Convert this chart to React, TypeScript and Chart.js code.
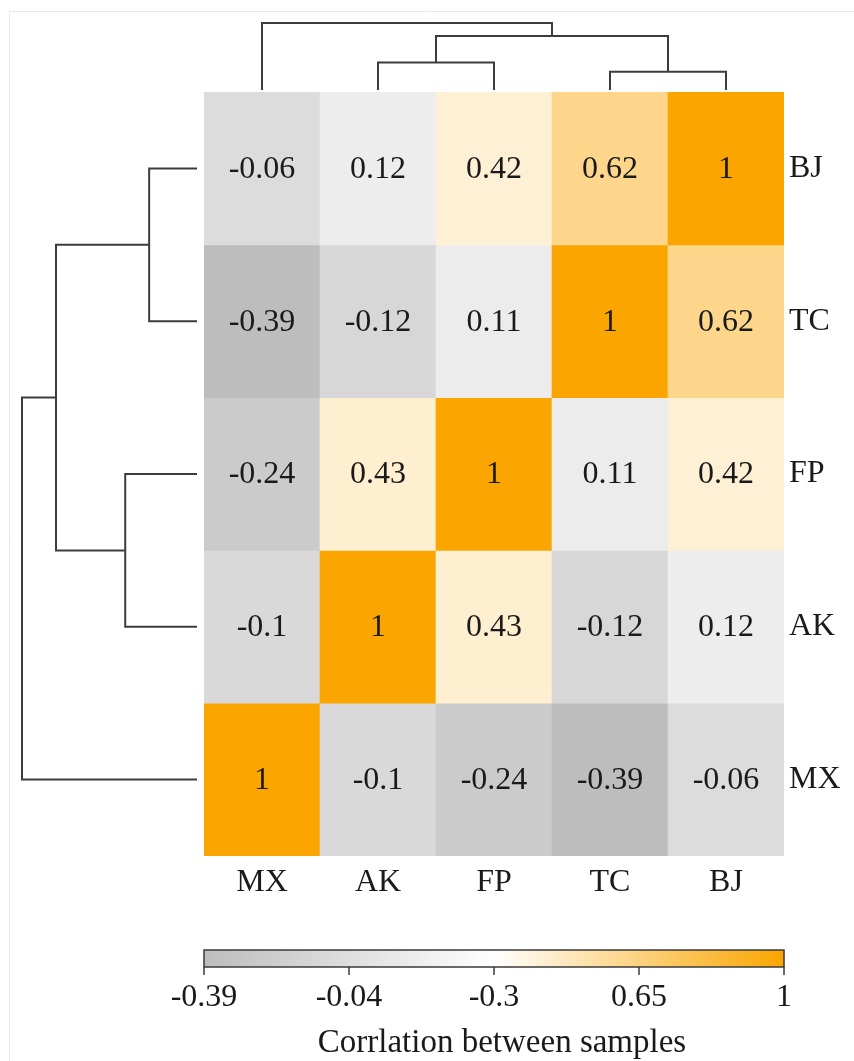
import React, { useEffect, useRef } from 'react';
import { Chart, registerables } from 'chart.js';

Chart.register(...registerables);

// ---------- data ----------
const COLUMNS = ['MX', 'AK', 'FP', 'TC', 'BJ'];
const ROWS = ['BJ', 'TC', 'FP', 'AK', 'MX'];
const ROW_BJ = [-0.06, 0.12, 0.42, 0.62, 1];
const ROW_TC = [-0.39, -0.12, 0.11, 1, 0.62];
const ROW_FP = [-0.24, 0.43, 1, 0.11, 0.42];
const ROW_AK = [-0.1, 1, 0.43, -0.12, 0.12];
const ROW_MX = [1, -0.1, -0.24, -0.39, -0.06];
const MATRIX = [ROW_BJ, ROW_TC, ROW_FP, ROW_AK, ROW_MX];

// hierarchical clustering: [child A, child B, merge height]; child = leaf name or index of an earlier merge
const LINKAGE: [string | number, string | number, number][] = [
  ['TC', 'BJ', 0.38],
  ['AK', 'FP', 0.57],
  [1, 0, 1.12],
  ['MX', 2, 1.39],
];

const COLORBAR_TICKS = ['-0.39', '-0.04', '-0.3', '0.65', '1'];
const COLORBAR_TITLE = 'Corrlation between samples';
const VALUE_MIN = -0.39;
const VALUE_MAX = 1;

// ---------- layout / style ----------
const W = 854;
const H = 1061;
const AREA_LEFT = 204;
const AREA_TOP = 92;
const AREA_RIGHT = 784;
const AREA_BOTTOM = 856;
const Y_AXIS_W = W - AREA_RIGHT;
const X_AXIS_H = 60;
const COL_GAP = 2;
const COL_SPAN = 67;
const ROW_GAP = 7;
const ROW_SPAN = 175;
const FONT = 'Liberation Serif, Times New Roman, serif';
const TEXT = '#1a1a1a';
const LINE = '#3c3c3c';
const GRAY = [189, 189, 189];
const WHITE = [255, 255, 255];
const ORANGE = [250, 165, 0];

function mix(a: number[], b: number[], t: number) {
  return `rgb(${a.map((v, i) => Math.round(v + (b[i] - v) * t)).join(',')})`;
}
function colorFor(v: number) {
  const p = (v - VALUE_MIN) / (VALUE_MAX - VALUE_MIN);
  if (p <= 0.5) return mix(GRAY, WHITE, p / 0.5);
  return mix(WHITE, ORANGE, (p - 0.5) / 0.5);
}

function dendroPaths(order: string[]) {
  const nodes: { p: number; h: number }[] = [];
  const paths: [number, number][][] = [];
  const pos = (c: string | number) => (typeof c === 'string' ? { p: order.indexOf(c), h: 0 } : nodes[c]);
  LINKAGE.forEach(([a, b, h]) => {
    const A = pos(a);
    const B = pos(b);
    paths.push([[A.p, A.h], [A.p, h], [B.p, h], [B.p, B.h]]);
    nodes.push({ p: (A.p + B.p) / 2, h });
  });
  return paths;
}

const HMAX = Math.max(...LINKAGE.map((l) => l[2]));

const cellTextPlugin = {
  id: 'cellText',
  afterDatasetsDraw(chart: any) {
    const ctx = chart.ctx;
    ctx.save();
    ctx.font = `32px ${FONT}`;
    ctx.fillStyle = TEXT;
    ctx.textAlign = 'center';
    ctx.textBaseline = 'middle';
    chart.data.datasets.forEach((ds: any, i: number) => {
      if (ds.type !== 'bar') return;
      const meta = chart.getDatasetMeta(i);
      meta.data.forEach((el: any, j: number) => {
        ctx.fillText(String(ds.values[j]), el.x, (el.y + el.base) / 2 + 1);
      });
    });
    ctx.restore();
  },
};

const decorPlugin = {
  id: 'decor',
  beforeDraw(chart: any) {
    const ctx = chart.ctx;
    ctx.save();
    ctx.fillStyle = '#ffffff';
    ctx.fillRect(0, 0, W, H);
    ctx.strokeStyle = '#e8e8e8';
    ctx.lineWidth = 1;
    ctx.beginPath();
    ctx.moveTo(9.5, H);
    ctx.lineTo(9.5, 11.5);
    ctx.lineTo(W, 11.5);
    ctx.stroke();
    ctx.restore();
  },
  afterDraw(chart: any) {
    const ctx = chart.ctx;
    const { left, right } = chart.chartArea;
    const top = 950;
    const bottom = 967;
    ctx.save();
    const g = ctx.createLinearGradient(left, 0, right, 0);
    g.addColorStop(0, mix(GRAY, GRAY, 0));
    g.addColorStop(0.5, mix(WHITE, WHITE, 0));
    g.addColorStop(1, mix(ORANGE, ORANGE, 0));
    ctx.fillStyle = g;
    ctx.fillRect(left, top, right - left, bottom - top);
    ctx.strokeStyle = '#3a3a3a';
    ctx.lineWidth = 1.5;
    ctx.strokeRect(left, top, right - left, bottom - top);
    ctx.font = `32px ${FONT}`;
    ctx.fillStyle = TEXT;
    ctx.textAlign = 'center';
    ctx.textBaseline = 'middle';
    COLORBAR_TICKS.forEach((t, i) => {
      const x = left + ((right - left) * i) / (COLORBAR_TICKS.length - 1);
      ctx.beginPath();
      ctx.moveTo(x, bottom);
      ctx.lineTo(x, bottom + 8);
      ctx.stroke();
      ctx.fillText(t, x, 998);
    });
    ctx.font = `33px ${FONT}`;
    ctx.textBaseline = 'alphabetic';
    ctx.fillText(COLORBAR_TITLE, (left + right) / 2 + 8, 1052);
    ctx.restore();
  },
};

const emptyHorizontalAxis = {
  type: 'linear',
  axis: 'x',
  position: 'bottom',
  display: true,
  offset: false,
  grid: { display: false, drawTicks: false },
  border: { display: false },
  ticks: { display: false },
  afterFit: (s: any) => { s.height = 0; s.paddingLeft = 0; s.paddingRight = 0; },
};

export default function App() {
  const ref = useRef<HTMLCanvasElement>(null);
  useEffect(() => {
    if (!ref.current) return;
    const n = ROWS.length;
    const barSets = ROWS.map((name, r) => ({
      type: 'bar',
      label: name,
      data: COLUMNS.map(() => [n - 1 - r, n - r]),
      values: MATRIX[r],
      backgroundColor: MATRIX[r].map(colorFor),
      borderWidth: 0,
      grouped: false,
      barPercentage: 1,
      categoryPercentage: 1,
      xAxisID: 'x',
      yAxisID: 'y',
      order: 2,
    }));
    const lineStyle = {
      type: 'line',
      borderColor: LINE,
      borderWidth: 2,
      pointRadius: 0,
      tension: 0,
      clip: false,
      fill: false,
      order: 1,
      borderJoinStyle: 'miter',
    };
    const colSets = dendroPaths(COLUMNS).map((path) => ({
      ...lineStyle,
      data: path.map(([p, h]) => ({ x: p, y: h })),
      xAxisID: 'xColTree',
      yAxisID: 'yColTree',
    }));
    // row tree grows to the left: heights are plotted as negative distances
    const rowSets = dendroPaths(ROWS).map((path) => ({
      ...lineStyle,
      data: path.map(([p, h]) => ({ x: -h, y: n - 0.5 - p })),
      xAxisID: 'xRowTree',
      yAxisID: 'y',
    }));
    const kc = COL_SPAN / HMAX;
    const kr = ROW_SPAN / HMAX;
    const tickFont = { family: FONT, size: 32 };
    const chart = new Chart(ref.current, {
      type: 'bar',
      data: { labels: COLUMNS, datasets: [...barSets, ...colSets, ...rowSets] as any },
      plugins: [decorPlugin, cellTextPlugin],
      options: {
        animation: false,
        responsive: false,
        devicePixelRatio: 1,
        layout: { padding: { left: AREA_LEFT, top: AREA_TOP, right: 0, bottom: H - AREA_BOTTOM - X_AXIS_H } },
        plugins: { legend: { display: false }, tooltip: { enabled: false } },
        scales: {
          x: {
            type: 'category',
            position: 'bottom',
            grid: { display: false, drawTicks: false },
            border: { display: false },
            ticks: { font: tickFont, color: TEXT, padding: 7, maxRotation: 0, autoSkip: false },
            afterFit: (s: any) => { s.height = X_AXIS_H; },
          },
          y: {
            type: 'linear',
            position: 'right',
            min: 0,
            max: n,
            grid: { display: false, drawTicks: false },
            border: { display: false },
            afterBuildTicks: (s: any) => { s.ticks = ROWS.map((_, i) => ({ value: n - 0.5 - i })); },
            ticks: {
              font: tickFont,
              color: TEXT,
              padding: 5,
              autoSkip: false,
              callback: (v: any) => ROWS[Math.round(n - 0.5 - Number(v))],
            },
            afterFit: (s: any) => { s.width = Y_AXIS_W; },
          },
          xColTree: { ...emptyHorizontalAxis, min: -0.5, max: COLUMNS.length - 0.5 },
          yColTree: {
            type: 'linear',
            axis: 'y',
            position: 'left',
            display: false,
            min: (AREA_TOP - COL_GAP - AREA_BOTTOM) / kc,
            max: -COL_GAP / kc,
          },
          xRowTree: {
            ...emptyHorizontalAxis,
            min: ROW_GAP / kr,
            max: (AREA_RIGHT - AREA_LEFT + ROW_GAP) / kr,
          },
        },
      } as any,
    });
    return () => chart.destroy();
  }, []);
  return (
    <div style={{ position: 'absolute', left: 0, top: 0, width: W, height: H }}>
      <canvas ref={ref} width={W} height={H} style={{ display: 'block', width: W, height: H }} />
    </div>
  );
}
